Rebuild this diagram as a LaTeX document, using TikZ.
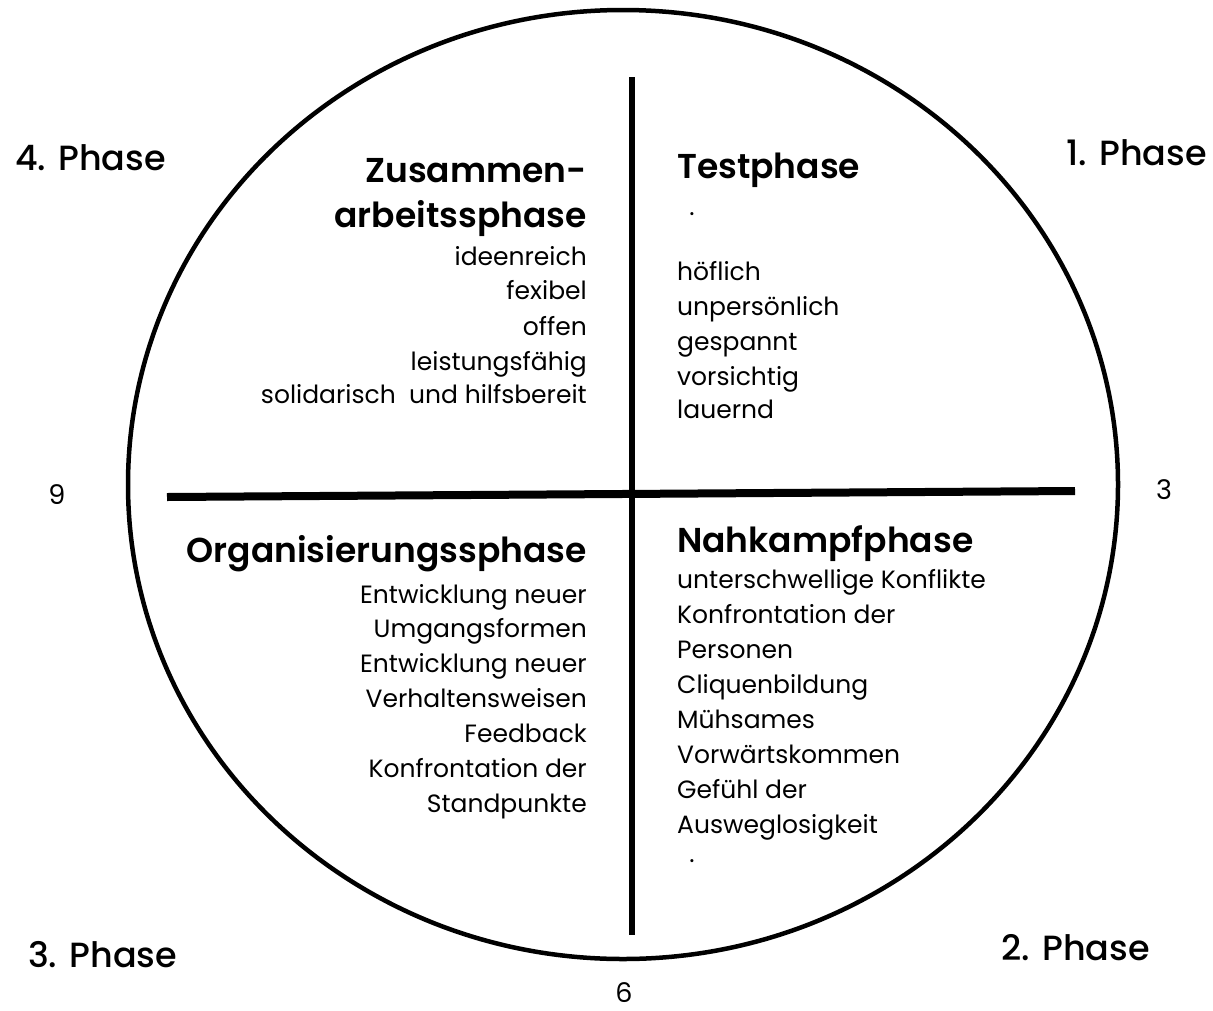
\documentclass[tikz,border=0pt]{standalone}
\usepackage{fontspec}
\setmainfont{Poppins}
\newfontfamily\headfont{Poppins SemiBold}
\newfontfamily\phasefont{Poppins Medium}
\tikzset{
  head/.style={font=\headfont\fontsize{34.5}{40}\selectfont, inner sep=0pt},
  item/.style={font=\fontsize{25}{29}\selectfont, inner sep=0pt},
  phase/.style={font=\phasefont\fontsize{35}{40}\selectfont, inner sep=0pt},
  hour/.style={font=\fontsize{27}{31}\selectfont, inner sep=0pt}
}
\begin{document}
\begin{tikzpicture}[x=1pt,y=1pt]
    \useasboundingbox (0,0) rectangle (1213,-1010);
    % circle and cross
    \draw [black, line width=4.5pt] (623,-484.5) ellipse (495 and 474.5);
    \coordinate (vtop) at (632,-77);
    \coordinate (vbot) at (632,-935);
    \coordinate (hleft) at (167,-497);
    \coordinate (hright) at (1075,-491);
    \draw [black, line width=6.5pt] (vtop) -- (vbot);
    \draw [black, line width=8pt] (hleft) -- (hright);
    % phases outside
    \node [phase, anchor=base west] (ph4) at (15,-170) {4. Phase};
    \node [phase, anchor=base east] (ph1) at (1207,-165) {1. Phase};
    \node [phase, anchor=base west] (ph3) at (28,-967) {3. Phase};
    \node [phase, anchor=base east] (ph2) at (1150,-960) {2. Phase};
    \node [hour, anchor=base] (h9) at (57,-504) {9};
    \node [hour, anchor=base] (h3) at (1164,-499) {3};
    \node [hour, anchor=base] (h6) at (624,-1002) {6};
    % top left
    \node [head, anchor=base east] (zus) at (587,-182) {Zusammen-};
    \node [head, anchor=base east] (arb) at (587,-227) {arbeitssphase};
    \node [item, anchor=base east] (zus1) at (587,-265) {ideenreich};
    \node [item, anchor=base east] (zus2) at (587,-299) {fexibel};
    \node [item, anchor=base east] (zus3) at (587,-335) {offen};
    \node [item, anchor=base east] (zus4) at (587,-370) {leistungsfähig};
    \node [item, anchor=base east] (zus5) at (587,-403) {solidarisch\ \ und hilfsbereit};
    % top right
    \node [head, anchor=base west] (test) at (677,-178) {Testphase};
    \node [item] (testdot) at (692,-214) {.};
    \node [item, anchor=base west] (test1) at (677,-280) {höflich};
    \node [item, anchor=base west] (test2) at (677,-315) {unpersönlich};
    \node [item, anchor=base west] (test3) at (677,-350) {gespannt};
    \node [item, anchor=base west] (test4) at (677,-385) {vorsichtig};
    \node [item, anchor=base west] (test5) at (677,-418) {lauernd};
    % bottom left
    \node [head, anchor=base east] (org) at (587,-562) {Organisierungssphase};
    \node [item, anchor=base east] (org1) at (587,-603) {Entwicklung neuer};
    \node [item, anchor=base east] (org2) at (587,-637) {Umgangsformen};
    \node [item, anchor=base east] (org3) at (587,-672) {Entwicklung neuer};
    \node [item, anchor=base east] (org4) at (587,-707) {Verhaltensweisen};
    \node [item, anchor=base east] (org5) at (587,-742) {Feedback};
    \node [item, anchor=base east] (org6) at (587,-777) {Konfrontation der};
    \node [item, anchor=base east] (org7) at (587,-812) {Standpunkte};
    % bottom right
    \node [head, anchor=base west] (nah) at (677,-552) {Nahkampfphase};
    \node [item, anchor=base west] (nah1) at (677,-588) {unterschwellige Konflikte};
    \node [item, anchor=base west] (nah2) at (677,-623) {Konfrontation der};
    \node [item, anchor=base west] (nah3) at (677,-658) {Personen};
    \node [item, anchor=base west] (nah4) at (677,-693) {Cliquenbildung};
    \node [item, anchor=base west] (nah5) at (677,-728) {Mühsames};
    \node [item, anchor=base west] (nah6) at (677,-763) {Vorwärtskommen};
    \node [item, anchor=base west] (nah7) at (677,-798) {Gefühl der};
    \node [item, anchor=base west] (nah8) at (677,-833) {Ausweglosigkeit};
    \node [item] (nahdot) at (692,-861) {.};
\end{tikzpicture}
\end{document}
